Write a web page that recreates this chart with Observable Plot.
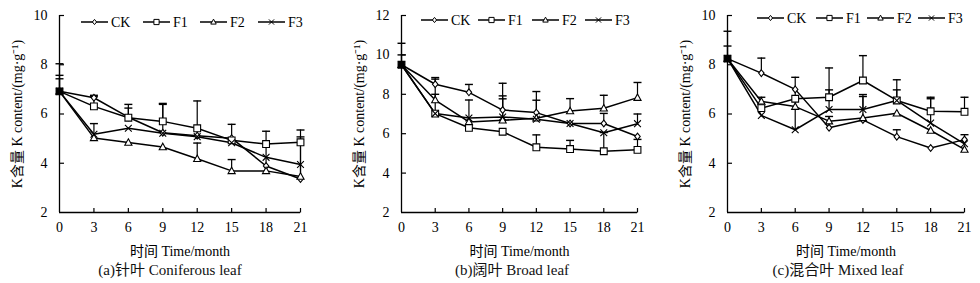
<!DOCTYPE html>
<html><head><meta charset="utf-8">
<script src="https://cdn.jsdelivr.net/npm/d3@7"></script>
<script src="https://cdn.jsdelivr.net/npm/@observablehq/plot@0.6"></script>
<style>
body{margin:0;background:#fff;width:980px;height:283px;overflow:hidden;position:relative;font-family:"Liberation Serif","Noto Sans CJK SC",serif;}
.panel{position:absolute;top:0;}
.panel svg, .panel svg text, .legend text{font-family:"Liberation Serif","Noto Sans CJK SC",serif !important;}
.caption{position:absolute;top:261px;font-size:15px;line-height:18px;white-space:nowrap;transform:translateX(-50%);color:#111;}
.legend{position:absolute;top:0;left:0;}
</style></head><body>
<script>
// ---------------- data ----------------
const months = [0, 3, 6, 9, 12, 15, 18, 21];
const seriesNames = ["CK", "F1", "F2", "F3"];

// (a) Coniferous leaf — K content (mg/g)
const conifCK = [6.92, 6.66, 5.87, 5.24, 5.12, 5.02, 3.89, 3.36];
const conifF1 = [6.92, 6.31, 5.85, 5.70, 5.42, 4.93, 4.78, 4.85];
const conifF2 = [6.92, 5.03, 4.84, 4.66, 4.18, 3.69, 3.69, 3.46];
const conifF3 = [6.92, 5.18, 5.42, 5.22, 5.08, 4.83, 4.24, 3.95];
// upper error (SD) — null where no bar is visible
const conifCKErr = [1.12, 0.10, 0.52, 1.19, 1.41, 0.56, 1.41, 1.71];
const conifF1Err = [0.65, 0.39, 0.39, 0.69, null, null, null, null];
const conifF2Err = [null, null, null, null, 0.64, 0.46, null, 1.89];
const conifF3Err = [0.51, 0.43, null, null, null, null, null, null];

// (b) Broad leaf
const broadCK = [9.50, 8.51, 8.10, 7.20, 7.07, 6.52, 6.52, 5.86];
const broadF1 = [9.50, 7.02, 6.30, 6.10, 5.31, 5.22, 5.11, 5.18];
const broadF2 = [9.50, 7.71, 6.60, 6.68, 6.78, 7.15, 7.29, 7.83];
const broadF3 = [9.50, 7.02, 6.80, 6.85, 6.73, 6.52, 6.05, 6.51];
const broadCKErr = [1.09, 0.34, 0.40, 1.36, 1.07, null, 0.51, null];
const broadF1Err = [null, 1.75, null, null, 0.63, 0.44, 0.95, 0.53];
const broadF2Err = [0.50, 0.29, null, 1.09, null, 0.63, 0.66, 0.77];
const broadF3Err = [null, null, 0.91, 1.07, 0.97, null, null, 0.49];

// (c) Mixed leaf
const mixedCK = [8.25, 7.66, 7.00, 5.44, 5.76, 5.08, 4.62, 4.96];
const mixedF1 = [8.25, 6.24, 6.62, 6.68, 7.36, 6.55, 6.11, 6.09];
const mixedF2 = [8.25, 6.51, 6.30, 5.71, 5.84, 6.03, 5.33, 4.56];
const mixedF3 = [8.25, 5.94, 5.36, 6.18, 6.18, 6.55, 5.63, 4.79];
const mixedCKErr = [1.11, 0.61, null, 0.46, null, 0.28, null, 0.20];
const mixedF1Err = [0.51, null, null, 1.19, 1.01, 0.84, 0.57, 0.59];
const mixedF2Err = [null, 0.17, null, null, 0.87, null, null, null];
const mixedF3Err = [null, null, 2.13, 0.80, 0.61, 0.43, 0.99, null];

const yLabel = "K含量 K content/(mg·g⁻¹)";
const xLabel = "时间 Time/month";
const captions = ["(a)针叶 Coniferous leaf", "(b)阔叶 Broad leaf", "(c)混合叶 Mixed leaf"];

// --------------- helpers ---------------
function rowsOf(vals, errs) {
  const out = [];
  seriesNames.forEach((s, i) => {
    months.forEach((m, j) => out.push({
      series: s, month: m, value: vals[i][j], err: errs[i][j],
      shared: vals.every(v => v[j] === vals[i][j])   // all series coincide here
    }));
  });
  return out;
}
const rad = size => Math.sqrt(size / Math.PI);
const symbols = {
  CK: {draw(c, s) { const r = rad(s); c.moveTo(0, -r); c.lineTo(r * 0.8, 0); c.lineTo(0, r); c.lineTo(-r * 0.8, 0); c.closePath(); }},
  F1: {draw(c, s) { const r = rad(s); c.moveTo(-r, -r); c.lineTo(r, -r); c.lineTo(r, r); c.lineTo(-r, r); c.closePath(); }},
  F2: {draw(c, s) { const r = rad(s); c.moveTo(0, -r * 1.1); c.lineTo(r * 1.05, r * 0.8); c.lineTo(-r * 1.05, r * 0.8); c.closePath(); }},
  F3: {draw(c, s) { const r = rad(s); c.moveTo(-r, -r); c.lineTo(r, r); c.moveTo(r, -r); c.lineTo(-r, r); }}
};
const capSym = {draw(c, s) { const r = rad(s); c.moveTo(-r, 0); c.lineTo(r, 0); }};
const yTickSym = {draw(c, s) { const r = rad(s); c.moveTo(0, 0); c.lineTo(r, 0); }};
const xTickSym = {draw(c, s) { const r = rad(s); c.moveTo(0, 0); c.lineTo(0, -r); }};

const FONT = '"Liberation Serif","Noto Sans CJK SC",serif';

function panel({rows, yDomain, yTicks, left, width, marginLeft, marginRight}) {
  const withErr = rows.filter(d => d.err != null);
  const marks = [
    Plot.ruleX([months[0]], {stroke: "black", strokeWidth: 1.3}),
    Plot.ruleY([yDomain[0]], {stroke: "black", strokeWidth: 1.3}),
    Plot.dot(yTicks.slice(1), {x: () => months[0], y: d => d, symbol: yTickSym, r: 4.5, stroke: "black", strokeWidth: 1.2}),
    Plot.dot(months.slice(1), {x: d => d, y: () => yDomain[0], symbol: xTickSym, r: 4.5, stroke: "black", strokeWidth: 1.2}),
    Plot.axisY({ticks: yTicks, tickSize: 0, tickPadding: 12, tickFormat: d => String(d),
      label: yLabel, labelAnchor: "center", labelOffset: 47, labelArrow: false}),
    Plot.axisX({ticks: months, tickSize: 0, tickPadding: 10, tickFormat: d => String(d),
      label: xLabel, labelAnchor: "center", labelOffset: 43, labelArrow: false}),
    Plot.ruleX(withErr, {x: "month", y1: "value", y2: d => d.value + d.err, stroke: "black", strokeWidth: 1.2}),
    Plot.dot(withErr, {x: "month", y: d => d.value + d.err, symbol: capSym, r: 4, stroke: "black", strokeWidth: 1.4}),
    Plot.line(rows, {x: "month", y: "value", z: "series", stroke: "black", strokeWidth: 1.5})
  ];
  seriesNames.forEach(s => {
    marks.push(Plot.dot(rows.filter(d => d.series === s), {x: "month", y: "value", symbol: symbols[s], r: 3.4,
      stroke: "black", fill: d => d.shared ? "black" : (s === "F3" ? "none" : "white"), strokeWidth: 1.1}));
  });
  const svg = Plot.plot({
    width, height: 258, marginLeft, marginRight, marginTop: 15, marginBottom: 46,
    style: {fontFamily: FONT, fontSize: "14px", color: "black", background: "transparent", overflow: "visible"},
    x: {domain: [months[0], months[months.length - 1]]},
    y: {domain: yDomain},
    color: {type: "identity"},
    marks
  });
  const div = document.createElement("div");
  div.className = "panel";
  div.style.left = left + "px";
  div.appendChild(svg);
  document.body.appendChild(div);
}

panel({rows: rowsOf([conifCK, conifF1, conifF2, conifF3], [conifCKErr, conifF1Err, conifF2Err, conifF3Err]),
  yDomain: [2, 10], yTicks: [2, 4, 6, 8, 10], left: 0, width: 330, marginLeft: 59, marginRight: 30});
panel({rows: rowsOf([broadCK, broadF1, broadF2, broadF3], [broadCKErr, broadF1Err, broadF2Err, broadF3Err]),
  yDomain: [2, 12], yTicks: [2, 4, 6, 8, 10, 12], left: 330, width: 330, marginLeft: 71, marginRight: 23});
panel({rows: rowsOf([mixedCK, mixedF1, mixedF2, mixedF3], [mixedCKErr, mixedF1Err, mixedF2Err, mixedF3Err]),
  yDomain: [2, 10], yTicks: [2, 4, 6, 8, 10], left: 660, width: 320, marginLeft: 67, marginRight: 16});

// captions
[[170, captions[0]], [512, captions[1]], [838, captions[2]]].forEach(([cx, t]) => {
  const d = document.createElement("div");
  d.className = "caption"; d.style.left = cx + "px"; d.textContent = t;
  document.body.appendChild(d);
});

// legends (item start positions per panel)
const leg = d3.select("body").append("svg").attr("class", "legend").attr("width", 980).attr("height", 40);
[[[81, 143, 200, 258], 22], [[421, 478, 532, 585], 20], [[757, 816, 867, 918], 18]].forEach(([xs, y]) => {
  seriesNames.forEach((s, i) => {
    const x = xs[i];
    const g = leg.append("g");
    g.append("line").attr("x1", x).attr("x2", x + 27).attr("y1", y).attr("y2", y).attr("stroke", "black").attr("stroke-width", 1.5);
    g.append("path").attr("transform", `translate(${x + 13.5},${y})`)
      .attr("d", d3.symbol(symbols[s], Math.PI * 2.6 * 2.6)())
      .attr("fill", s === "F3" ? "none" : "white").attr("stroke", "black").attr("stroke-width", 1);
    g.append("text").attr("x", x + 30).attr("y", y).attr("dy", "0.35em")
      .attr("font-size", 14).text(s);
  });
});
</script>
</body></html>
